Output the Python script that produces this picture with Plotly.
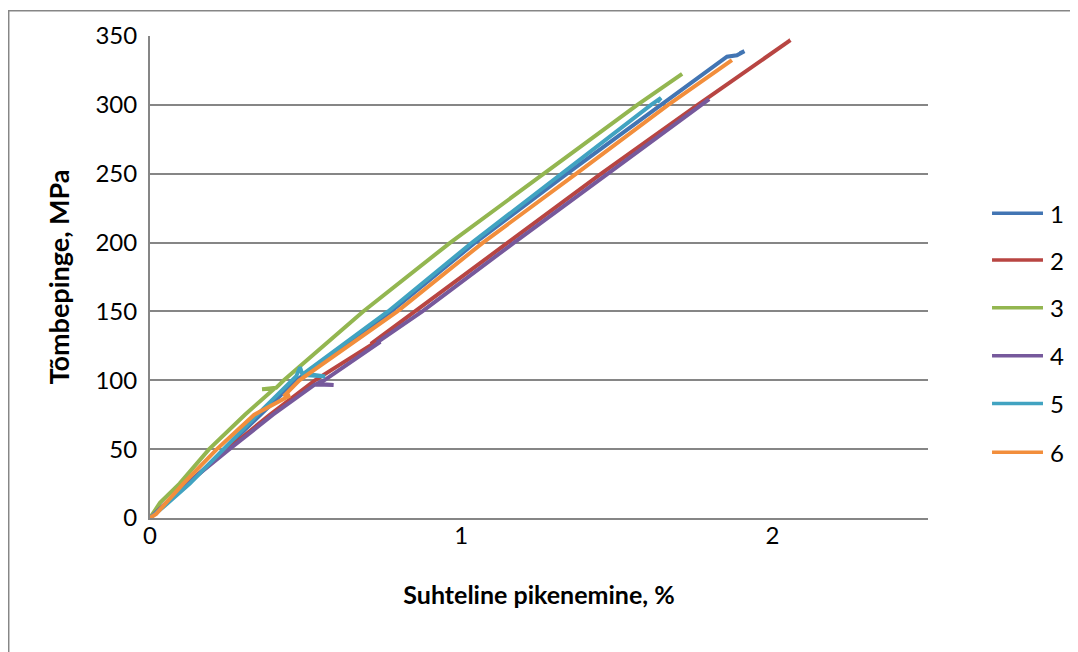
import plotly.graph_objects as go

# Strain (%) and stress (MPa), per specimen
s1_x = [0, 0.125, 0.24, 0.355, 0.47, 0.775, 1.045, 1.34, 1.645, 1.854, 1.886, 1.91, 1.895]
s1_y = [0, 25, 50, 75, 100, 150, 200, 250, 300, 335, 336, 339, 337.5]

s2_x = [0, 0.12, 0.25, 0.385, 0.53, 0.72, 0.71, 0.85, 1.147, 1.45, 1.76, 2.058, 2.045]
s2_y = [0, 25, 50, 75, 100, 127, 126.5, 150, 200, 250, 300, 347, 345]

s3_x = [0, 0.032, 0.095, 0.19, 0.305, 0.40, 0.36, 0.405, 0.43, 0.685, 0.965, 1.265, 1.566, 1.71]
s3_y = [0, 11, 25, 50, 75, 94, 93.5, 94.5, 100, 150, 200, 250, 300, 322.5]

s4_x = [0, 0.12, 0.255, 0.395, 0.53, 0.59, 0.535, 0.56, 0.74, 0.73, 0.875, 1.17, 1.473, 1.797]
s4_y = [0, 25, 50, 75, 97, 96.5, 97.5, 100, 128, 127.5, 150, 200, 250, 304.2]

s5_x = [0, 0.043, 0.128, 0.235, 0.345, 0.47, 0.482, 0.49, 0.563, 0.495, 0.765, 1.035, 1.32, 1.61, 1.642, 1.63]
s5_y = [0, 8, 25, 50, 75, 103, 109.5, 104, 102.7, 105, 150, 200, 250, 300, 305, 302]

s6_x = [0, 0.02, 0.107, 0.215, 0.335, 0.45, 0.43, 0.48, 0.795, 1.07, 1.37, 1.665, 1.87]
s6_y = [0, 3, 25, 50, 75, 89, 88.5, 100, 150, 200, 250, 300, 332.5]

names = ["1", "2", "3", "4", "5", "6"]
colors = ["#4275B3", "#B84542", "#93B650", "#76599C", "#41A3C1", "#F28E3C"]
series = [(s1_x, s1_y), (s2_x, s2_y), (s3_x, s3_y), (s4_x, s4_y), (s5_x, s5_y), (s6_x, s6_y)]

y_ticks = [0, 50, 100, 150, 200, 250, 300, 350]
x_ticks = [0, 1, 2]

FONT = "Lato, 'Open Sans', sans-serif"
GRID = "#868686"

fig = go.Figure()
for (xs, ys), n, c in zip(series, names, colors):
    fig.add_trace(go.Scatter(x=xs, y=ys, mode="lines", name=n, showlegend=False,
                             line=dict(color=c, width=4)))

# manual legend (line sample + label) on the right
leg_y = [0.6322, 0.5351, 0.4360, 0.3368, 0.2376, 0.1364]
shapes = [dict(type="path", xref="paper", yref="paper",
               path="M -0.1816,-0.4 L -0.1816,1.0522 L 1.3,1.0522",
               line=dict(color=GRID, width=1.5))]
annotations = []
for n, c, ly in zip(names, colors, leg_y):
    shapes.append(dict(type="line", xref="paper", yref="paper",
                       x0=1.0823, x1=1.1478, y0=ly, y1=ly,
                       line=dict(color=c, width=3.5)))
    annotations.append(dict(xref="paper", yref="paper", x=1.154, y=ly,
                            xanchor="left", yanchor="middle", showarrow=False,
                            text=n, font=dict(family=FONT, size=24, color="black")))

fig.update_layout(
    width=1070, height=644,
    margin=dict(l=142, r=150, t=26, b=134),
    paper_bgcolor="white", plot_bgcolor="white",
    font=dict(family=FONT, size=24, color="black"),
    showlegend=False,
    xaxis=dict(range=[0, 2.5], tickvals=x_ticks, showgrid=False, zeroline=False,
               showline=True, linecolor=GRID, linewidth=2, ticks="",
               ticklabelstandoff=-5,
               title=dict(text="<b>Suhteline pikenemine, %</b>", standoff=39,
                          font=dict(size=25))),
    yaxis=dict(range=[0, 350], tickvals=y_ticks, showgrid=True, gridcolor=GRID,
               gridwidth=2, zeroline=False, showline=True, linecolor=GRID,
               linewidth=2, ticks="", ticklabelstandoff=6,
               title=dict(text="<b>Tõmbepinge, MPa</b>", standoff=18,
                          font=dict(size=27))),
    shapes=shapes,
    annotations=annotations,
)

fig.write_html("out.html")
